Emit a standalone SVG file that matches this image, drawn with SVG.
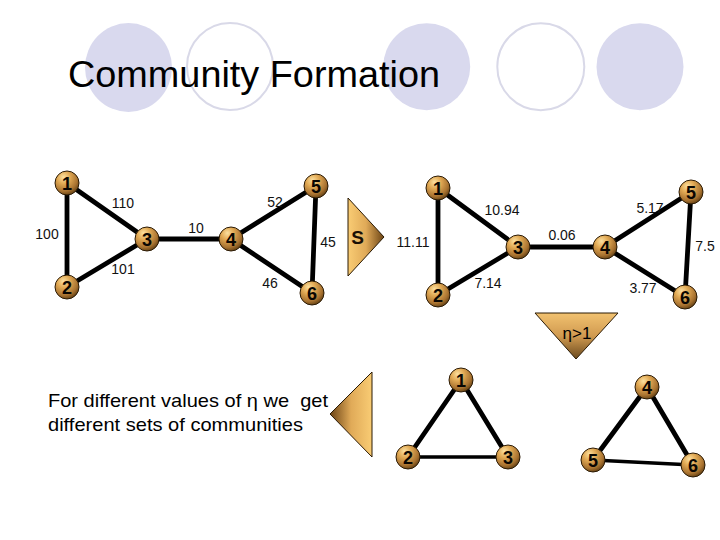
<svg xmlns="http://www.w3.org/2000/svg" width="720" height="540" viewBox="0 0 720 540">
<defs>
<radialGradient id="ball" cx="0.38" cy="0.3" r="0.75" fx="0.35" fy="0.25">
<stop offset="0" stop-color="#fbe0a0"/>
<stop offset="0.35" stop-color="#e2aa55"/>
<stop offset="0.75" stop-color="#a87230"/>
<stop offset="1" stop-color="#5a3a10"/>
</radialGradient>
<linearGradient id="gRight" x1="0" y1="0" x2="1" y2="0">
<stop offset="0" stop-color="#f9cc74"/>
<stop offset="0.5" stop-color="#e0aa58"/>
<stop offset="1" stop-color="#6b4314"/>
</linearGradient>
<linearGradient id="gLeft" x1="0" y1="0" x2="1" y2="0">
<stop offset="0" stop-color="#6b4314"/>
<stop offset="0.5" stop-color="#e0aa58"/>
<stop offset="1" stop-color="#f9cc74"/>
</linearGradient>
<linearGradient id="gDown" x1="0" y1="0" x2="0" y2="1">
<stop offset="0" stop-color="#f2c270"/>
<stop offset="0.5" stop-color="#d09a50"/>
<stop offset="1" stop-color="#6b4a1e"/>
</linearGradient>
</defs>
<style>
.bgf{fill:#d9d9ee;}
.bgo{fill:none;stroke:#d9d9e8;stroke-width:2;}
.e{stroke:#000;stroke-width:4.8;stroke-linecap:round;fill:none;}
.e2{stroke:#000;stroke-width:3.5;stroke-linecap:round;fill:none;}
.n{fill:url(#ball);stroke:#2a1a05;stroke-width:1;}
.nt{font-family:"Liberation Sans",Arial,sans-serif;font-weight:bold;font-size:18px;fill:#0a0602;text-anchor:middle;}
.lb{font-family:"Liberation Sans",Arial,sans-serif;font-size:14px;fill:#111;text-anchor:middle;}
.tri{stroke:#2a1a05;stroke-width:1;}
.txt{font-family:"Liberation Sans",Arial,sans-serif;font-size:19px;fill:#000;}
</style>
<rect width="720" height="540" fill="#fff"/>
<g id="background">
<ellipse class="bgf" cx="128.5" cy="67.5" rx="43.5" ry="44.5"/>
<ellipse class="bgo" cx="230" cy="66.5" rx="43" ry="43.5"/>
<ellipse class="bgf" cx="426.7" cy="66.7" rx="43.5" ry="43.5"/>
<ellipse class="bgo" cx="540.8" cy="66.7" rx="43.5" ry="43.5"/>
<ellipse class="bgf" cx="640" cy="66.7" rx="43.5" ry="43.5"/>
</g>
<text id="title" x="68" y="87" font-family="'Liberation Sans',Arial,sans-serif" font-size="37" textLength="372" lengthAdjust="spacingAndGlyphs" fill="#000">Community Formation</text>
<g id="connectors">
<line class="e" x1="67" y1="183" x2="67" y2="287"/>
<line class="e" x1="67" y1="183" x2="147" y2="239"/>
<line class="e" x1="67" y1="287" x2="147" y2="239"/>
<line class="e" x1="147" y1="239" x2="231" y2="239"/>
<line class="e" x1="231" y1="239" x2="316" y2="186"/>
<line class="e" x1="231" y1="239" x2="312" y2="293"/>
<line class="e" x1="316" y1="186" x2="312" y2="293"/>
<line class="e" x1="438" y1="188" x2="438" y2="295"/>
<line class="e" x1="438" y1="188" x2="518" y2="247"/>
<line class="e" x1="438" y1="295" x2="518" y2="247"/>
<line class="e" x1="518" y1="247" x2="605" y2="247"/>
<line class="e" x1="605" y1="247" x2="691" y2="192"/>
<line class="e" x1="605" y1="247" x2="685" y2="297"/>
<line class="e" x1="691" y1="192" x2="685" y2="297"/>
<line class="e" x1="461" y1="380" x2="408" y2="457"/>
<line class="e" x1="461" y1="380" x2="508" y2="457"/>
<line class="e2" x1="408" y1="457" x2="508" y2="457"/>
<line class="e" x1="647" y1="387" x2="593" y2="460"/>
<line class="e" x1="647" y1="387" x2="693" y2="465"/>
<line class="e2" x1="593" y1="460" x2="693" y2="465"/>
</g>
<g id="edge-labels">
<text class="lb" x="123" y="208">110</text>
<text class="lb" x="47" y="239">100</text>
<text class="lb" x="123" y="274">101</text>
<text class="lb" x="196" y="233">10</text>
<text class="lb" x="275" y="207">52</text>
<text class="lb" x="328" y="247">45</text>
<text class="lb" x="270" y="288">46</text>
<text class="lb" x="502" y="215">10.94</text>
<text class="lb" x="413" y="247">11.11</text>
<text class="lb" x="488" y="288">7.14</text>
<text class="lb" x="562" y="240">0.06</text>
<text class="lb" x="650" y="213">5.17</text>
<text class="lb" x="705" y="251">7.5</text>
<text class="lb" x="643" y="293">3.77</text>
</g>
<g id="g1-n1"><circle class="n" cx="67" cy="183" r="12"/><text class="nt" x="67" y="189.5">1</text></g>
<g id="g1-n2"><circle class="n" cx="67" cy="287" r="12"/><text class="nt" x="67" y="293.5">2</text></g>
<g id="g1-n3"><circle class="n" cx="147" cy="239" r="12"/><text class="nt" x="147" y="245.5">3</text></g>
<g id="g1-n4"><circle class="n" cx="231" cy="239" r="12"/><text class="nt" x="231" y="245.5">4</text></g>
<g id="g1-n5"><circle class="n" cx="316" cy="186" r="12"/><text class="nt" x="316" y="192.5">5</text></g>
<g id="g1-n6"><circle class="n" cx="312" cy="293" r="12"/><text class="nt" x="312" y="299.5">6</text></g>
<g id="g2-n1"><circle class="n" cx="438" cy="188" r="12"/><text class="nt" x="438" y="194.5">1</text></g>
<g id="g2-n2"><circle class="n" cx="438" cy="295" r="12"/><text class="nt" x="438" y="301.5">2</text></g>
<g id="g2-n3"><circle class="n" cx="518" cy="247" r="12"/><text class="nt" x="518" y="253.5">3</text></g>
<g id="g2-n4"><circle class="n" cx="605" cy="247" r="12"/><text class="nt" x="605" y="253.5">4</text></g>
<g id="g2-n5"><circle class="n" cx="691" cy="192" r="12"/><text class="nt" x="691" y="198.5">5</text></g>
<g id="g2-n6"><circle class="n" cx="685" cy="297" r="12"/><text class="nt" x="685" y="303.5">6</text></g>
<g id="g3-n1"><circle class="n" cx="461" cy="380" r="12"/><text class="nt" x="461" y="386.5">1</text></g>
<g id="g3-n2"><circle class="n" cx="408" cy="457" r="12"/><text class="nt" x="408" y="463.5">2</text></g>
<g id="g3-n3"><circle class="n" cx="508" cy="457" r="12"/><text class="nt" x="508" y="463.5">3</text></g>
<g id="g4-n4"><circle class="n" cx="647" cy="387" r="12"/><text class="nt" x="647" y="393.5">4</text></g>
<g id="g4-n5"><circle class="n" cx="593" cy="460" r="12"/><text class="nt" x="593" y="466.5">5</text></g>
<g id="g4-n6"><circle class="n" cx="693" cy="465" r="12"/><text class="nt" x="693" y="471.5">6</text></g>
<g id="arrow-s">
<polygon class="tri" points="348,198 384,237 348,276" fill="url(#gRight)"/>
<text x="357.5" y="244" font-family="'Liberation Sans',Arial,sans-serif" font-weight="bold" font-size="19" fill="#1a1005" text-anchor="middle">S</text>
</g>
<g id="arrow-eta">
<polygon class="tri" points="535,313 618,313 576,359" fill="url(#gDown)"/>
<text x="577" y="339" font-family="'Liberation Sans',Arial,sans-serif" font-size="17" fill="#000" text-anchor="middle">η&gt;1</text>
</g>
<g id="arrow-left">
<polygon class="tri" points="372,372 330,414 372,457" fill="url(#gLeft)"/>
</g>
<g id="caption">
<text class="txt" x="48" y="407" textLength="280" lengthAdjust="spacingAndGlyphs" xml:space="preserve">For different values of η we  get</text>
<text class="txt" x="48" y="431" textLength="255" lengthAdjust="spacingAndGlyphs">different sets of communities</text>
</g>
</svg>
